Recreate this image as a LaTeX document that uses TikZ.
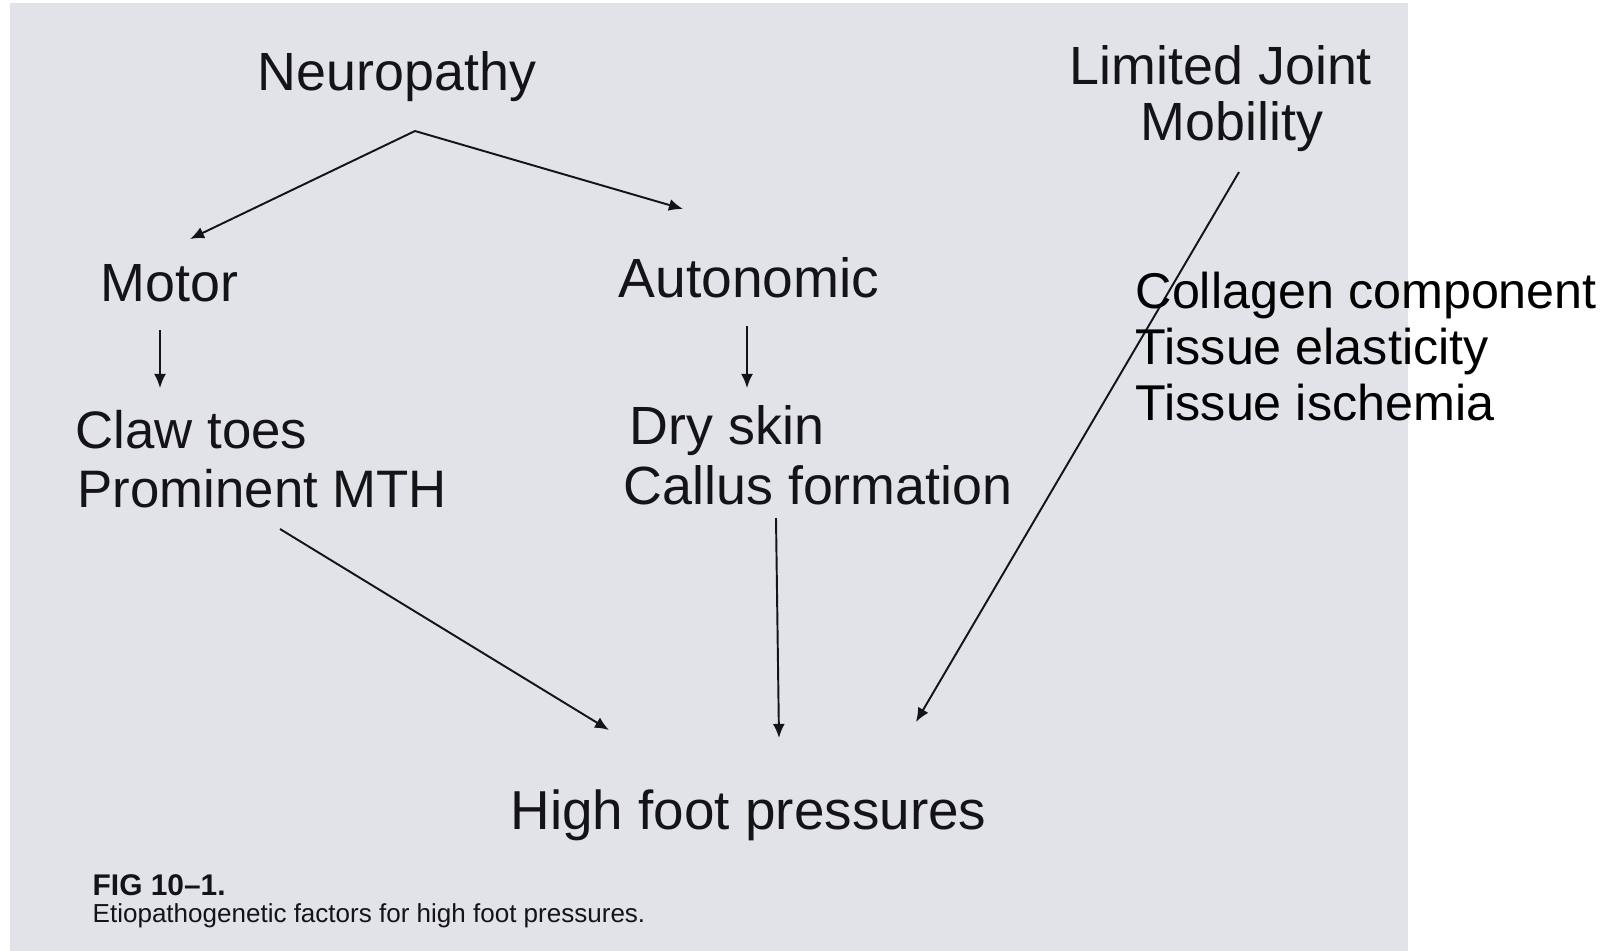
\documentclass[tikz,border=0pt]{standalone}
\usepackage{fontspec}
\setmainfont{Liberation Sans}
\usetikzlibrary{arrows.meta}
\definecolor{paper}{RGB}{226,227,233}
\definecolor{ink}{RGB}{20,20,22}
\begin{document}
\begin{tikzpicture}[x=0.01cm,y=-0.01cm,
  lbl/.style={anchor=base west,inner sep=0pt,text=ink,font=\fontsize{15.3}{18}\selectfont},
  lblc/.style={anchor=base,inner sep=0pt,text=ink,font=\fontsize{15.3}{18}\selectfont},
  over/.style={anchor=base west,inner sep=0pt,text=black,font=\fontsize{14.3}{17}\selectfont},
  arr/.style={draw=ink,line width=0.55pt,-{Latex[length=4pt,width=3.4pt]}}]
\useasboundingbox (0,0) rectangle (1608,951);
\fill[white] (0,0) rectangle (1608,951);
\fill[paper] (10,3) rectangle (1408,951);

% text nodes
\node[lblc] (neuro) at (397,90) {Neuropathy};
\node[lblc] (ljm1) at (1221,84) {Limited Joint};
\node[lblc] (ljm2) at (1232,140) {Mobility};
\node[lbl] (motor) at (100,301) {Motor};
\node[lbl,font=\fontsize{15.7}{18}\selectfont] (auto) at (618,297) {Autonomic};
\node[lbl,font=\fontsize{15.0}{18}\selectfont] (claw) at (75,448) {Claw toes};
\node[lbl,font=\fontsize{15.0}{18}\selectfont] (mth) at (77,507) {Prominent MTH};
\node[lbl] (dry) at (629,444) {Dry skin};
\node[lbl] (callus) at (623,504) {Callus formation};
\node[lbl,font=\fontsize{15.6}{18}\selectfont] (hfp) at (510,829) {High foot pressures};
\node[anchor=base west,inner sep=0pt,text=ink,font=\bfseries\fontsize{8.5}{10}\selectfont] (fig) at (92,895) {FIG 10--1.};
\node[anchor=base west,inner sep=0pt,text=ink,font=\fontsize{7.4}{9}\selectfont] (cap) at (92,922) {Etiopathogenetic factors for high foot pressures.};

% connector end points
\coordinate (apex) at (415,131);
\coordinate (tipM) at (190,239);
\coordinate (tipA) at (683,209);
\coordinate (mD0) at (160,330);
\coordinate (mD1) at (160,388);
\coordinate (aD0) at (747,326);
\coordinate (aD1) at (747,388);
\coordinate (mthS) at (280,529);
\coordinate (mthT) at (609,730);
\coordinate (calS) at (776,518);
\coordinate (calT) at (779,738);
\coordinate (ljmS) at (1239,172);
\coordinate (ljmT) at (916,722);

\draw[arr] (apex) -- (tipM);
\draw[arr] (apex) -- (tipA);
\draw[arr] (mD0) -- (mD1);
\draw[arr] (aD0) -- (aD1);
\draw[arr] (mthS) -- (mthT);
\draw[arr] (calS) -- (calT);
\draw[arr] (ljmS) -- (ljmT);

% overlaid list
\node[over] (coll) at (1135,308) {Collagen component};
\node[over] (elas) at (1135,364) {Tissue elasticity};
\node[over] (isch) at (1135,420) {Tissue ischemia};
\end{tikzpicture}
\end{document}
